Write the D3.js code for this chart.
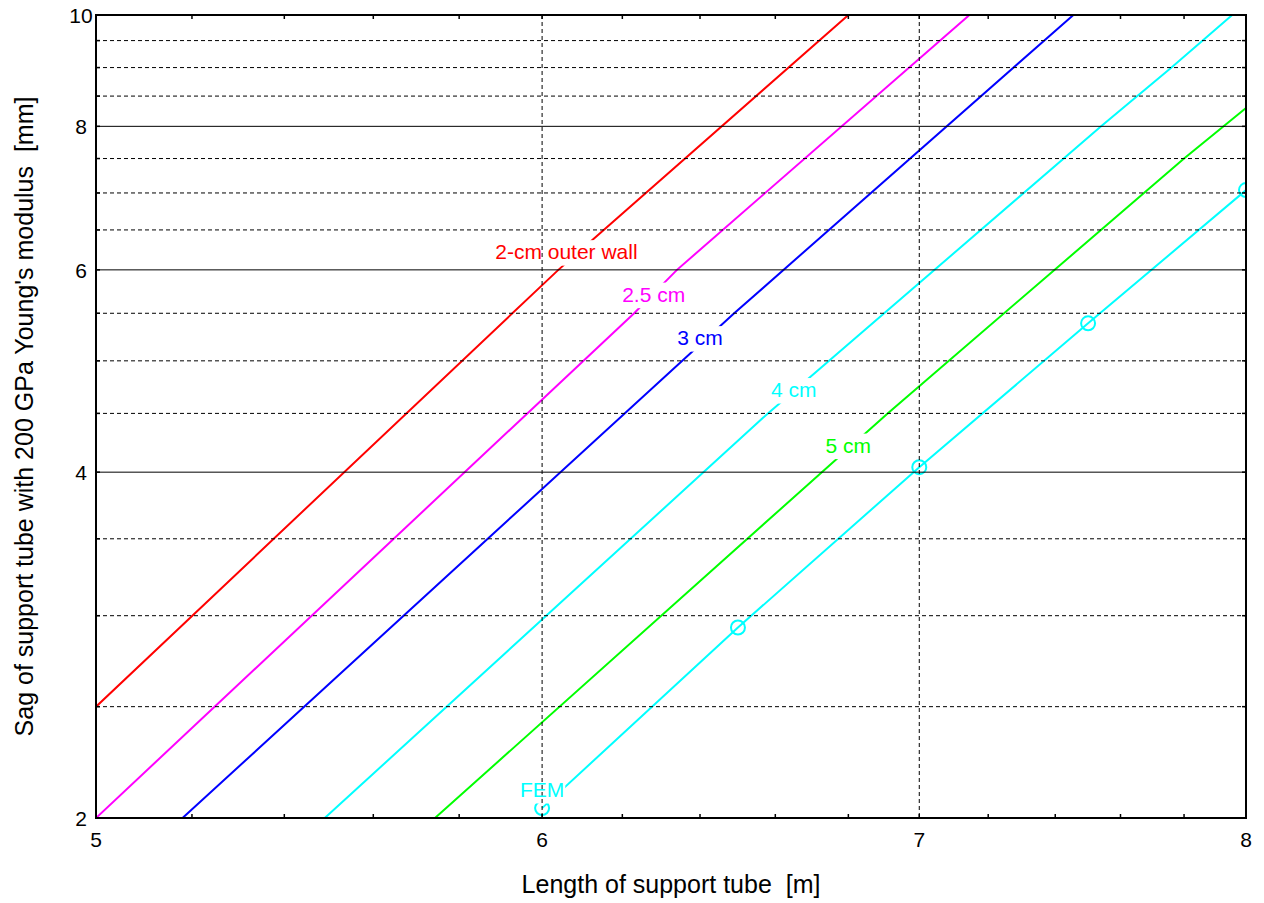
<!DOCTYPE html>
<html>
<head>
<meta charset="utf-8"/>
<style>
    body { margin: 0; background: #fff; }
    text { font-family: "Liberation Sans", Arial, sans-serif; fill: #000; }
    /* dashed grid for minor values, solid for the labelled sag values */
    .grid-dash { stroke: #000; stroke-width: 1; stroke-dasharray: 4,3; }
    .grid-solid { stroke: #000; stroke-width: 1; }
    .frame { fill: none; stroke: #000; stroke-width: 2; }
    .tick { stroke: #000; stroke-width: 1.5; }
    .curve { fill: none; stroke-width: 2; }
</style>
</head>
<body>
<svg id="graph" width="1264" height="903"></svg>

<script src="https://d3js.org/d3.v7.min.js"></script>
<script>
    // Axis values
    const xTicks = [5, 6, 7, 8];
    const xMinorTicks = [5.2, 5.4, 5.6, 5.8, 6.2, 6.4, 6.6, 6.8, 7.2, 7.4, 7.6, 7.8];
    const yTicks = [2, 4, 6, 8, 10];
    const yMinorTicks = [2.5, 3, 3.5, 4.5, 5, 5.5, 6.5, 7, 7.5, 8.5, 9, 9.5];

    // Sag curves (length in m, sag in mm)
    const wall2Len = [5, 6.04, 6.8];
    const wall2Sag = [2.5, 6, 10];
    const wall25Len = [5, 6.23, 6.34, 7.145];
    const wall25Sag = [2, 5.5, 6, 10];
    const wall3Len = [5.18, 6.49, 7.455];
    const wall3Sag = [2, 5.5, 10];
    const wall4Len = [5.49, 6.58, 7.54, 7.76, 7.955];
    const wall4Sag = [2, 4.5, 8, 9, 10];
    const wall5Len = [5.743, 6.91, 7.8, 8];
    const wall5Sag = [2, 4.5, 7.5, 8.3];
    // FEM results (4-cm wall)
    const femLen = [6, 6.5, 7, 7.5, 8];
    const femSag = [2.04, 2.93, 4.04, 5.39, 7.04];

    const curveNames = ['2-cm outer wall', '2.5 cm', '3 cm', '4 cm', '5 cm', 'FEM'];

    // chart geometry (plot box)
    var boxL = 96, boxR = 1246, boxT = 15, boxB = 818;

    var svg = d3.select('#graph');

    var x = d3.scaleLog().domain([5, 8]).range([boxL, boxR]);
    var y = d3.scaleLog().domain([2, 10]).range([boxB, boxT]);

    // series: data + colour + where the label sits (in data units)
    var series = [
        {name: curveNames[0], len: wall2Len, sag: wall2Sag, color: '#ff0000', lx: 6.06, ly: 6.13},
        {name: curveNames[1], len: wall25Len, sag: wall25Sag, color: '#ff00ff', lx: 6.28, ly: 5.63},
        {name: curveNames[2], len: wall3Len, sag: wall3Sag, color: '#0000ff', lx: 6.40, ly: 5.16},
        {name: curveNames[3], len: wall4Len, sag: wall4Sag, color: '#00ffff', lx: 6.65, ly: 4.65},
        {name: curveNames[4], len: wall5Len, sag: wall5Sag, color: '#00ff00', lx: 6.80, ly: 4.16},
        {name: curveNames[5], len: femLen, sag: femSag, color: '#00ffff', lx: 6.00, ly: 2.086, markers: true}
    ];

    svg.append('defs').append('clipPath').attr('id', 'plot-clip')
        .append('rect')
        .attr('x', boxL).attr('y', boxT)
        .attr('width', boxR - boxL).attr('height', boxB - boxT);

    var plot = svg.append('g').attr('clip-path', 'url(#plot-clip)');

    var line = d3.line()
        .x(function(d){ return x(d[0]); })
        .y(function(d){ return y(d[1]); });

    series.forEach(function(s){
        var pts = s.len.map(function(l, i){ return [l, s.sag[i]]; });
        plot.append('path')
            .attr('class', 'curve')
            .attr('d', line(pts))
            .attr('stroke', s.color);
        if (s.markers) {
            plot.selectAll(null)
                .data(pts)
                .enter().append('circle')
                .attr('cx', function(d){ return x(d[0]); })
                .attr('cy', function(d){ return y(d[1]); })
                .attr('r', 7)
                .attr('fill', 'none')
                .attr('stroke', s.color)
                .attr('stroke-width', 2);
        }
    });

    // white boxes behind the curve labels (they cut the lines)
    var masks = svg.append('g');
    var grid = svg.append('g');
    var labels = svg.append('g');

    series.forEach(function(s){
        var t = labels.append('text')
            .attr('x', x(s.lx))
            .attr('y', y(s.ly))
            .attr('text-anchor', 'middle')
            .style('font-size', '21px')
            .style('fill', s.color)
            .text(s.name);
        var b = t.node().getBBox();
        masks.append('rect')
            .attr('x', b.x - 1).attr('y', b.y)
            .attr('width', b.width + 2).attr('height', b.height + 2.5)
            .attr('fill', '#fff');
    });

    // grid on top of the data
    grid.selectAll(null)
        .data(yMinorTicks)
        .enter().append('line')
        .attr('class', 'grid-dash')
        .attr('x1', boxL).attr('x2', boxR)
        .attr('y1', function(d){ return y(d); })
        .attr('y2', function(d){ return y(d); });
    grid.selectAll(null)
        .data(yTicks.slice(1, -1))
        .enter().append('line')
        .attr('class', 'grid-solid')
        .attr('x1', boxL).attr('x2', boxR)
        .attr('y1', function(d){ return y(d); })
        .attr('y2', function(d){ return y(d); });
    grid.selectAll(null)
        .data(xTicks.slice(1, -1))
        .enter().append('line')
        .attr('class', 'grid-dash')
        .attr('y1', boxT).attr('y2', boxB)
        .attr('x1', function(d){ return x(d); })
        .attr('x2', function(d){ return x(d); });

    // inward ticks on all four sides
    var ticks = svg.append('g');
    var tl = 4;
    var allX = xMinorTicks.concat(xTicks);
    var allY = yMinorTicks.concat(yTicks);
    allX.forEach(function(v){
        ticks.append('line').attr('class', 'tick')
            .attr('x1', x(v)).attr('x2', x(v)).attr('y1', boxB).attr('y2', boxB - tl);
        ticks.append('line').attr('class', 'tick')
            .attr('x1', x(v)).attr('x2', x(v)).attr('y1', boxT).attr('y2', boxT + tl);
    });
    allY.forEach(function(v){
        ticks.append('line').attr('class', 'tick')
            .attr('y1', y(v)).attr('y2', y(v)).attr('x1', boxL).attr('x2', boxL + tl);
        ticks.append('line').attr('class', 'tick')
            .attr('y1', y(v)).attr('y2', y(v)).attr('x1', boxR).attr('x2', boxR - tl);
    });

    svg.append('rect')
        .attr('class', 'frame')
        .attr('x', boxL).attr('y', boxT)
        .attr('width', boxR - boxL).attr('height', boxB - boxT);

    // tick labels
    svg.append('g').selectAll('text')
        .data(xTicks)
        .enter().append('text')
        .attr('x', function(d){ return x(d); })
        .attr('y', 847)
        .attr('text-anchor', 'middle')
        .style('font-size', '21px')
        .text(function(d){ return d; });

    svg.append('g').selectAll('text')
        .data(yTicks)
        .enter().append('text')
        .attr('x', 81)
        .attr('y', function(d){ return y(d) + 8; })
        .attr('text-anchor', 'middle')
        .style('font-size', '21px')
        .text(function(d){ return d; });

    // axis titles
    svg.append('text')
        .attr('x', (boxL + boxR) / 2)
        .attr('y', 893)
        .attr('text-anchor', 'middle')
        .style('font-size', '25px')
        .style('white-space', 'pre')
        .text('Length of support tube  [m]');

    svg.append('text')
        .attr('transform', 'translate(33,' + (boxT + boxB) / 2 + ') rotate(-90)')
        .attr('text-anchor', 'middle')
        .style('font-size', '25px')
        .style('white-space', 'pre')
        .text("Sag of support tube with 200 GPa Young's modulus  [mm]");
</script>
</body>
</html>
